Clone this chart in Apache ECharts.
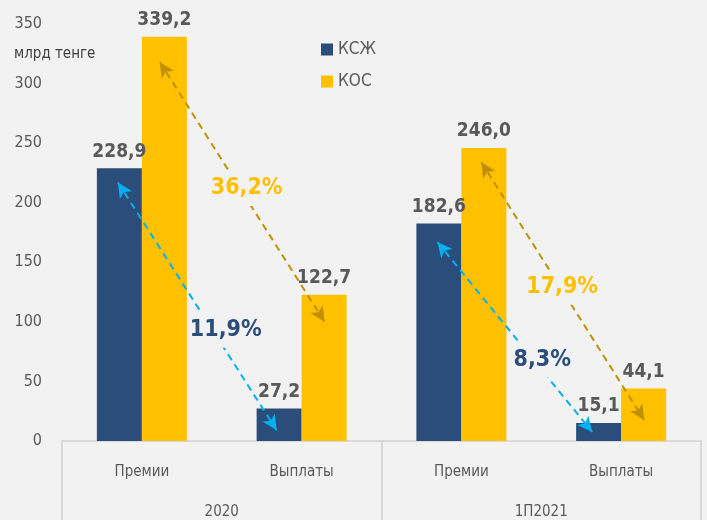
<!DOCTYPE html>
<html>
<head>
<meta charset="utf-8">
<script src="https://cdn.jsdelivr.net/npm/echarts@6/dist/echarts.min.js"></script>
<style>
	html, body { margin: 0; padding: 0; background: #f2f2f2; }
	#chart { width: 707px; height: 520px; }
</style>
</head>
<body>
<div id="chart"></div>
<script>
	// категории и группы
	var categories = ['Премии', 'Выплаты', 'Премии', 'Выплаты'];
	var groups = ['2020', '1П2021'];
	// значения, млрд тенге
	var ksgValues = [228.9, 27.2, 182.6, 15.1];
	var kosValues = [339.2, 122.7, 246.0, 44.1];
	var yTicks = [0, 50, 100, 150, 200, 250, 300, 350];
	// стрелки: [x1, y1, x2, y2] в единицах осей (x: 0..4 по категориям)
	var ksgArrows = [[0.35, 217, 1.344, 9], [2.35, 167, 3.319, 7.6]];
	var kosArrows = [[0.6125, 318, 1.644, 100], [2.625, 234, 3.644, 17.6]];
	// подписи прироста
	var growthLabels = [
		{ text: '36,2%', x: 1.156, y: 212, series: 'kos' },
		{ text: '11,9%', x: 1.025, y: 93, series: 'ksg' },
		{ text: '17,9%', x: 3.131, y: 129, series: 'kos' },
		{ text: '8,3%', x: 3.006, y: 68, series: 'ksg' }
	];

	var FONT = '"DejaVu Sans", sans-serif';
	var STRETCH = 'condensed';
	var BLUE = '#2a4d79', YELLOW = '#ffc000', CYAN = '#00b0f0', GOLD = '#bf9000', GREY = '#595959';

	function fmt(p) {
		return p.value.toFixed(1).replace('.', ',');
	}

	var arrowLines = [];
	ksgArrows.forEach(function (a) {
		arrowLines.push([{ coord: [a[0], a[1]], lineStyle: { color: CYAN } }, { coord: [a[2], a[3]] }]);
	});
	kosArrows.forEach(function (a) {
		arrowLines.push([{ coord: [a[0], a[1]], lineStyle: { color: GOLD } }, { coord: [a[2], a[3]] }]);
	});

	var chart = echarts.init(document.getElementById('chart'));
	chart.setOption({
		animation: false,
		backgroundColor: '#f2f2f2',
		title: {
			text: 'млрд тенге',
			left: 9,
			top: 42,
			textStyle: { fontFamily: FONT, fontStyle: STRETCH, fontSize: 15, fontWeight: 'normal', color: '#404040' }
		},
		legend: {
			orient: 'vertical',
			left: 321,
			top: 41,
			padding: 0,
			itemWidth: 12,
			itemHeight: 12,
			itemGap: 15,
			icon: 'rect',
			data: ['КСЖ', 'КОС'],
			textStyle: { fontFamily: FONT, fontStyle: STRETCH, fontSize: 17, color: GREY }
		},
		grid: { left: 62, right: 6, top: 24, bottom: 79 },
		xAxis: [{
			type: 'category',
			data: categories,
			axisLine: { show: true, lineStyle: { color: '#d9d9d9', width: 2 } },
			axisTick: { show: false },
			axisLabel: { fontFamily: FONT, fontStyle: STRETCH, fontSize: 15, color: GREY, margin: 24 }
		}, {
			type: 'category',
			data: groups,
			position: 'bottom',
			axisLine: { show: true, lineStyle: { color: '#d9d9d9', width: 2 } },
			axisTick: { show: true, inside: false, length: 80, alignWithLabel: false, lineStyle: { color: '#d9d9d9', width: 2 } },
			axisLabel: { fontFamily: FONT, fontStyle: STRETCH, fontSize: 15, color: GREY, margin: 64 }
		}, {
			type: 'value',
			min: 0,
			max: 4,
			show: false
		}],
		yAxis: {
			type: 'value',
			min: 0,
			max: 350,
			interval: 50,
			axisLine: { show: false },
			axisTick: { show: false },
			splitLine: { show: false },
			axisLabel: {
				fontFamily: FONT, fontStyle: STRETCH, fontSize: 16, color: GREY, margin: 20,
				formatter: function (v) { return yTicks.indexOf(v) >= 0 ? String(v) : ''; }
			}
		},
		series: [{
			name: 'КСЖ',
			type: 'bar',
			xAxisIndex: 0,
			barWidth: 45,
			barGap: '0%',
			itemStyle: { color: BLUE },
			label: { show: true, position: 'top', distance: 7, formatter: fmt, fontFamily: FONT, fontStyle: STRETCH, fontSize: 19, fontWeight: 'bold', color: GREY },
			data: ksgValues
		}, {
			name: 'КОС',
			type: 'bar',
			xAxisIndex: 0,
			barWidth: 45,
			itemStyle: { color: YELLOW },
			label: { show: true, position: 'top', distance: 7, formatter: fmt, fontFamily: FONT, fontStyle: STRETCH, fontSize: 19, fontWeight: 'bold', color: GREY },
			data: kosValues
		}, {
			name: 'arrows',
			type: 'scatter',
			xAxisIndex: 2,
			symbolSize: 0,
			z: 5,
			silent: true,
			itemStyle: { opacity: 1 },
			data: growthLabels.map(function (g) {
				return {
					value: [g.x, g.y],
					label: {
						show: true,
						position: 'inside',
						formatter: g.text,
						fontFamily: FONT,
						fontStyle: STRETCH,
						fontSize: 23,
						fontWeight: 'bold',
						color: g.series === 'kos' ? YELLOW : BLUE,
						backgroundColor: '#f2f2f2',
						padding: [6, 0]
					}
				};
			}),
			markLine: {
				silent: true,
				symbol: ['arrow', 'arrow'],
				symbolSize: [11, 15],
				label: { show: false },
				lineStyle: { type: [7, 5], width: 2 },
				z: 3,
				data: arrowLines
			}
		}]
	});
</script>
</body>
</html>
